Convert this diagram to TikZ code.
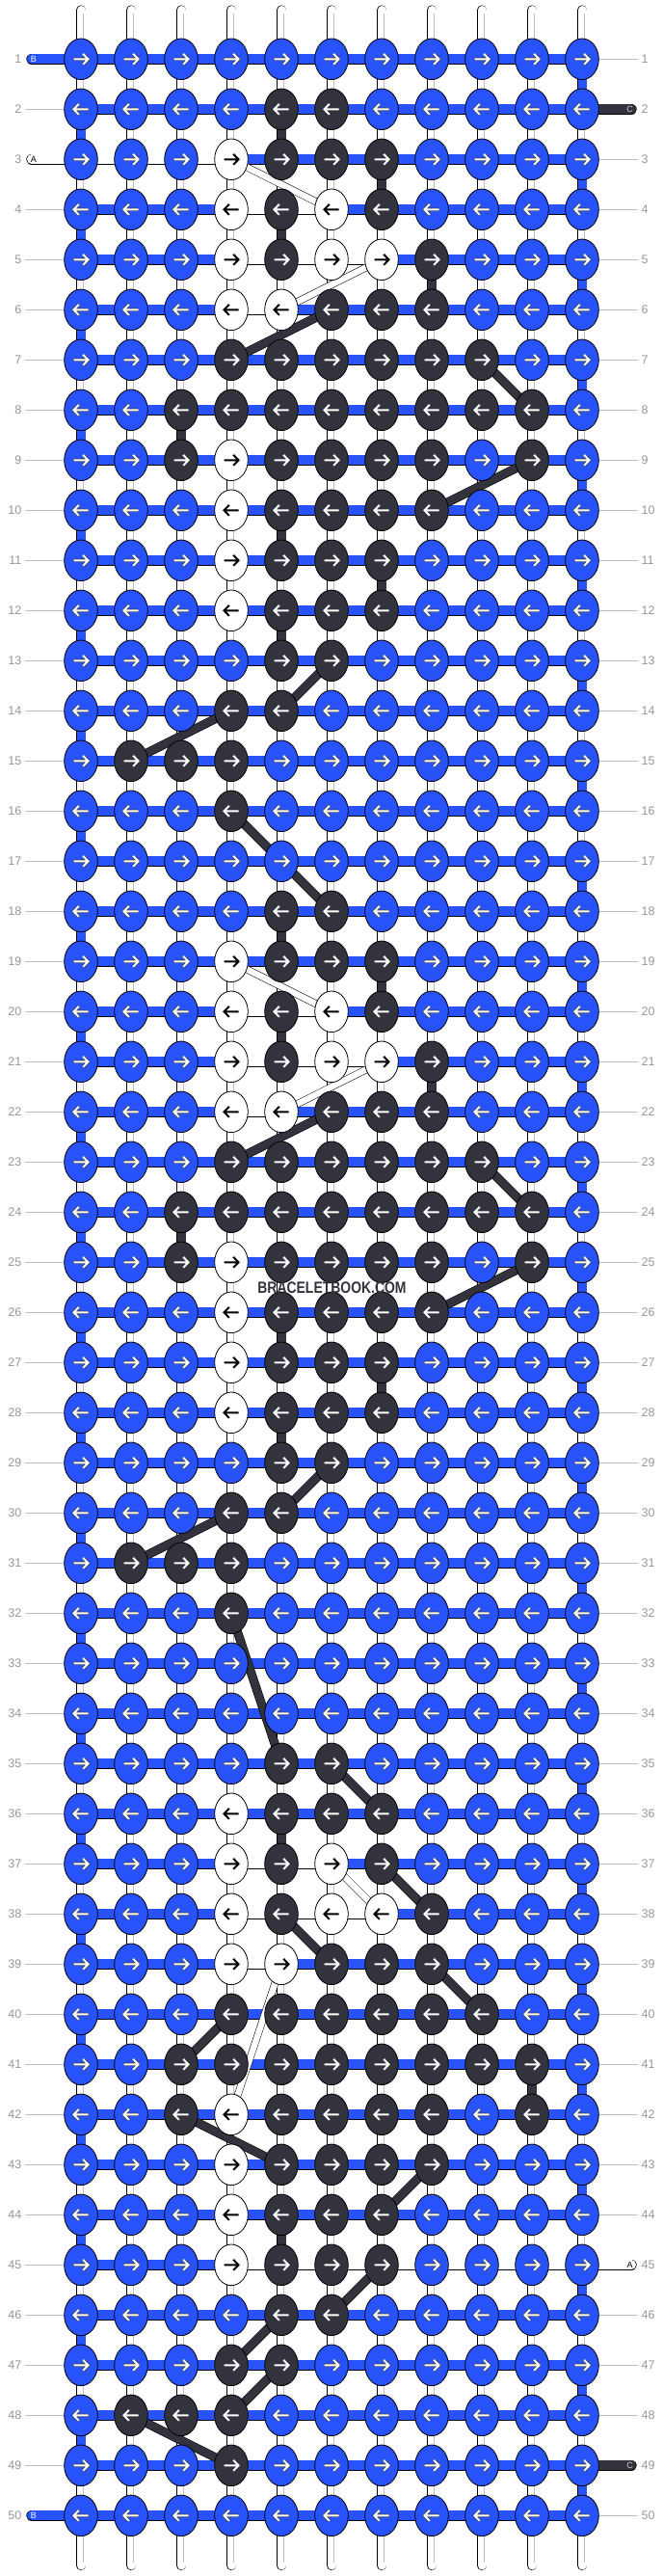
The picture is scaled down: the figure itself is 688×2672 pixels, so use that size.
\documentclass[tikz,border=0pt]{standalone}
\usepackage{fontspec}
\setmainfont{Liberation Sans}
\usetikzlibrary{shapes.geometric}

\definecolor{bbblue}{RGB}{40,82,250}
\definecolor{bbdark}{RGB}{51,51,62}
\definecolor{lblgray}{RGB}{150,150,150}
\definecolor{lnkgray}{RGB}{190,190,190}

\begin{document}
\begin{tikzpicture}[x=1pt, y=-1pt,
    knot/.style={ellipse, draw=black, line width=0.8pt, minimum width=34.6pt, minimum height=42.6pt, inner sep=0pt},
    knotB/.style={knot, fill=bbblue},
    knotD/.style={knot, fill=bbdark},
    knotW/.style={knot, fill=white},
    arrB/.style={white, line width=2pt, line join=miter, preaction={draw=black!75, line width=3.2pt}},
    arrD/.style={white, line width=2pt, line join=miter},
    arrW/.style={black, line width=2pt, line join=miter},
    strand/.style={draw=black, line width=0.6pt, double=#1, double distance=9pt},
    strandcore/.style={draw=black!25, line width=0.5pt, double=white, double distance=4pt},
    weft/.style={draw=black, line width=0.7pt, double=#1, double distance=10pt},
    moved/.style={draw=black, line width=0.6pt, double=bbdark, double distance=8pt},
    movedwhite/.style={draw=black, line width=0.5pt, double=white, double distance=6.5pt},
    tab/.style={draw=black, line width=0.7pt, double=#1, double distance=10pt, line cap=round},
    tabtxt/.style={font=\fontsize{9}{9}\selectfont, inner sep=0pt},
    rowlbl/.style={font=\fontsize{12.5}{12.5}\selectfont, text=lblgray, inner sep=0pt},
    lblline/.style={draw=lnkgray, line width=0.9pt}
]
\useasboundingbox (0,0) rectangle (688,2672);

% === grid points ===
\foreach \r in {1,...,50}
  \foreach \c in {1,...,11}
    \coordinate (p-\r-\c) at ({84+52*(\c-1)},{61.3+52*(\r-1)});

% === loose ends top and bottom ===
\foreach \c in {1,...,11}{
  \coordinate (t-\c) at ({84+52*(\c-1)},10.5);
  \coordinate (b-\c) at ({84+52*(\c-1)},2661);
  \draw[strand=white, line cap=round] (t-\c) -- (p-1-\c);
  \draw[strandcore] ([yshift=-3pt]t-\c) -- (p-1-\c);
  \draw[strand=white, line cap=round] (p-50-\c) -- (b-\c);
  \draw[strandcore] (p-50-\c) -- ([yshift=3pt]b-\c);
}

% === vertical strands between rows ===
\foreach \r in {1,...,49}{
  \pgfmathtruncatemacro\rn{\r+1}
  \foreach \c in {1,...,11}{
    \draw[strand=white] (p-\r-\c) -- (p-\rn-\c);
    \draw[strandcore] (p-\r-\c) -- (p-\rn-\c);
  }
}
% background string turning at the edges
\foreach \r in {1,3,...,49}{
  \pgfmathtruncatemacro\rn{\r+1}
  \draw[strand=bbblue] (p-\r-11) -- (p-\rn-11);
}
\foreach \r in {2,4,...,48}{
  \pgfmathtruncatemacro\rn{\r+1}
  \draw[strand=bbblue] (p-\r-1) -- (p-\rn-1);
}
% dark pieces
\foreach \r/\c in {2/5,4/5,10/5,12/5,3/7,11/7,5/8,8/3,
                   18/5,20/5,26/5,28/5,19/7,27/7,21/8,24/3,
                   36/5,44/5,41/10}{
  \pgfmathtruncatemacro\rn{\r+1}
  \draw[strand=bbdark] (p-\r-\c) -- (p-\rn-\c);
}

% === horizontal segments ===
\foreach \r in {1,...,50}{
  \foreach \c in {1,...,10}{
    \pgfmathtruncatemacro\cn{\c+1}
    \draw[weft=bbblue] (p-\r-\c) -- (p-\r-\cn);
  }
}
\foreach \r/\c in {3/1,3/2,3/3,4/4,4/5,5/4,5/5,5/6,6/4,
                   20/4,20/5,21/4,21/5,21/6,22/4,
                   37/4,37/5,38/4,38/5,38/6,39/4,
                   45/4,45/5,45/6,45/7,45/8,45/9,45/10}{
  \pgfmathtruncatemacro\cn{\c+1}
  \draw[weft=white] (p-\r-\c) -- (p-\r-\cn);
}

% === moved strands ===
\foreach \ra/\ca/\rb/\cb in {6/6/7/4, 7/9/8/10, 9/10/10/8, 13/6/14/5, 14/4/15/2, 16/4/18/6,
                             22/6/23/4, 23/9/24/10, 25/10/26/8, 29/6/30/5, 30/4/31/2, 32/4/35/5,
                             35/6/36/7, 37/7/38/8, 38/5/39/6, 39/8/40/9, 40/4/41/3, 42/3/43/5,
                             43/8/44/7, 45/7/46/6, 46/5/47/4, 47/5/48/4, 48/2/49/4}
  \draw[moved] (p-\ra-\ca) -- (p-\rb-\cb);
\foreach \ra/\ca/\rb/\cb in {3/4/4/6, 5/7/6/5, 19/4/20/6, 21/7/22/5, 37/6/38/7, 39/5/42/4}
  \draw[movedwhite] (p-\ra-\ca) -- (p-\rb-\cb);

% === string ends (tabs) ===
\foreach \r/\col/\txt/\tc in {1/bbblue/B/white, 3/white/A/black, 50/bbblue/B/white}{
  \coordinate (tl-\r) at (33,{61.3+52*(\r-1)});
  \draw[tab=\col] (tl-\r) -- (p-\r-1);
  \node[tabtxt, text=\tc] (tt-l-\r) at (35,{61.3+52*(\r-1)}) {\txt};
}
\foreach \r/\col/\txt/\tc in {2/bbdark/C/black!20, 45/white/A/black, 49/bbdark/C/black!20}{
  \coordinate (tr-\r) at (655,{61.3+52*(\r-1)});
  \draw[tab=\col] (p-\r-11) -- (tr-\r);
  \node[tabtxt, text=\tc] (tt-r-\r) at (653.5,{61.3+52*(\r-1)}) {\txt};
}

% === row numbers ===
\foreach \r in {2,4,5,...,49}{
  \coordinate (ll-\r) at (26,{61.3+52*(\r-1)});
  \draw[lblline] (ll-\r) -- (p-\r-1);
}
\foreach \r in {1,3,4,...,44,46,47,48,50}{
  \coordinate (lr-\r) at (662,{61.3+52*(\r-1)});
  \draw[lblline] (p-\r-11) -- (lr-\r);
}
\foreach \r in {1,...,50}{
  \node[rowlbl, anchor=east] (rl-\r) at (22.5,{61.3+52*(\r-1)}) {\r};
  \node[rowlbl, anchor=west] (rr-\r) at (665.5,{61.3+52*(\r-1)}) {\r};
}

% === knots ===
\foreach \pat [count=\r] in {
  {B,B,B,B,B,B,B,B,B,B,B},
  {B,B,B,B,D,D,B,B,B,B,B},
  {B,B,B,W,D,D,D,B,B,B,B},
  {B,B,B,W,D,W,D,B,B,B,B},
  {B,B,B,W,D,W,W,D,B,B,B},
  {B,B,B,W,W,D,D,D,B,B,B},
  {B,B,B,D,D,D,D,D,D,B,B},
  {B,B,D,D,D,D,D,D,D,D,B},
  {B,B,D,W,D,D,D,D,B,D,B},
  {B,B,B,W,D,D,D,D,B,B,B},
  {B,B,B,W,D,D,D,B,B,B,B},
  {B,B,B,W,D,D,D,B,B,B,B},
  {B,B,B,B,D,D,B,B,B,B,B},
  {B,B,B,D,D,B,B,B,B,B,B},
  {B,D,D,D,B,B,B,B,B,B,B},
  {B,B,B,D,B,B,B,B,B,B,B},
  {B,B,B,B,B,B,B,B,B,B,B},
  {B,B,B,B,D,D,B,B,B,B,B},
  {B,B,B,W,D,D,D,B,B,B,B},
  {B,B,B,W,D,W,D,B,B,B,B},
  {B,B,B,W,D,W,W,D,B,B,B},
  {B,B,B,W,W,D,D,D,B,B,B},
  {B,B,B,D,D,D,D,D,D,B,B},
  {B,B,D,D,D,D,D,D,D,D,B},
  {B,B,D,W,D,D,D,D,B,D,B},
  {B,B,B,W,D,D,D,D,B,B,B},
  {B,B,B,W,D,D,D,B,B,B,B},
  {B,B,B,W,D,D,D,B,B,B,B},
  {B,B,B,B,D,D,B,B,B,B,B},
  {B,B,B,D,D,B,B,B,B,B,B},
  {B,D,D,D,B,B,B,B,B,B,B},
  {B,B,B,D,B,B,B,B,B,B,B},
  {B,B,B,B,B,B,B,B,B,B,B},
  {B,B,B,B,B,B,B,B,B,B,B},
  {B,B,B,B,D,D,B,B,B,B,B},
  {B,B,B,W,D,D,D,B,B,B,B},
  {B,B,B,W,D,W,D,B,B,B,B},
  {B,B,B,W,D,W,W,D,B,B,B},
  {B,B,B,W,W,D,D,D,B,B,B},
  {B,B,B,D,D,D,D,D,D,B,B},
  {B,B,D,D,D,D,D,D,D,D,B},
  {B,B,D,W,D,D,D,D,B,D,B},
  {B,B,B,W,D,D,D,D,B,B,B},
  {B,B,B,W,D,D,D,B,B,B,B},
  {B,B,B,W,D,D,D,B,B,B,B},
  {B,B,B,B,D,D,B,B,B,B,B},
  {B,B,B,D,D,B,B,B,B,B,B},
  {B,D,D,D,B,B,B,B,B,B,B},
  {B,B,B,D,B,B,B,B,B,B,B},
  {B,B,B,B,B,B,B,B,B,B,B}}{
  \pgfmathsetmacro\dir{mod(\r,2)==1 ? 1 : -1}
  \foreach \k [count=\c] in \pat {
    \node[knot\k] (k-\r-\c) at (p-\r-\c) {};
    \draw[arr\k, shift={(p-\r-\c)}, xscale=\dir] (-7.5,0) -- (7.5,0) (2.2,-5.5) -- (7.5,0) -- (2.2,5.5);
  }
}

% === watermark ===
\node[font=\bfseries\fontsize{16.8}{17}\selectfont, text=bbdark, inner sep=0pt] (wm) at (344.5,1336) {\scalebox{0.83}[1]{BRACELETBOOK.COM}};

\end{tikzpicture}
\end{document}
